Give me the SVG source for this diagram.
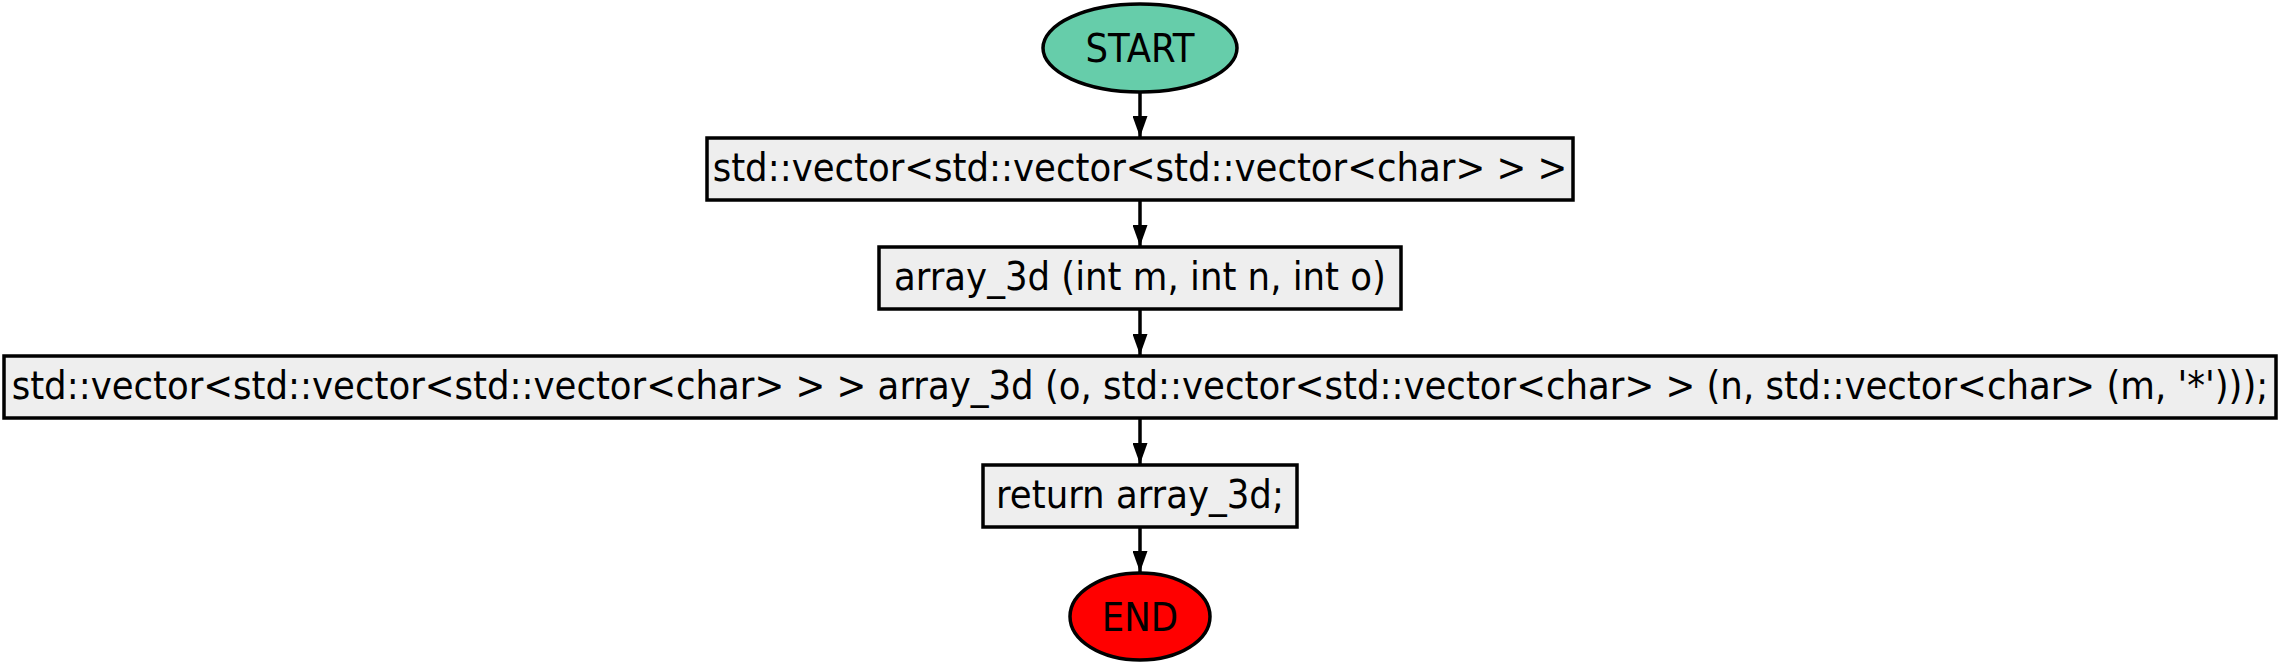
<svg xmlns="http://www.w3.org/2000/svg" width="2280" height="665" viewBox="0 0 2280 665">
<style>
  .box { fill: #eeeeee; stroke: #000000; stroke-width: 3.5; }
  .oval { stroke: #000000; stroke-width: 3.5; }
  .lbl { font-family: "DejaVu Sans Condensed", "DejaVu Sans", sans-serif; font-size: 39.5px; fill: #000000; text-anchor: middle; }
  .edge { stroke: #000000; stroke-width: 3.5; fill: none; }
</style>
<defs>
  <marker id="arrow" viewBox="0 0 21 15" refX="21" refY="7.5" markerWidth="21" markerHeight="15" markerUnits="userSpaceOnUse" orient="auto">
    <path d="M0,0 L21,7.5 L0,15 Z" fill="#000000"/>
  </marker>
</defs>
<rect width="2280" height="665" fill="#ffffff"/>
<g id="connectors">
  <line class="edge" x1="1140" y1="92" x2="1140" y2="137" marker-end="url(#arrow)"/>
  <line class="edge" x1="1140" y1="200" x2="1140" y2="246" marker-end="url(#arrow)"/>
  <line class="edge" x1="1140" y1="309" x2="1140" y2="355" marker-end="url(#arrow)"/>
  <line class="edge" x1="1140" y1="418" x2="1140" y2="464" marker-end="url(#arrow)"/>
  <line class="edge" x1="1140" y1="527" x2="1140" y2="572" marker-end="url(#arrow)"/>
</g>
<g id="start">
  <ellipse class="oval" cx="1140" cy="48" rx="97" ry="44" fill="#66cdaa"/>
  <text class="lbl" x="1140" y="62">START</text>
</g>
<g id="decl">
  <rect class="box" x="707" y="138" width="866" height="62"/>
  <text class="lbl" x="1140" y="181">std::vector&lt;std::vector&lt;std::vector&lt;char&gt; &gt; &gt;</text>
</g>
<g id="func">
  <rect class="box" x="879" y="247" width="522" height="62"/>
  <text class="lbl" x="1140" y="290">array_3d (int m, int n, int o)</text>
</g>
<g id="init">
  <rect class="box" x="4" y="356" width="2272" height="62"/>
  <text class="lbl" x="1140" y="399">std::vector&lt;std::vector&lt;std::vector&lt;char&gt; &gt; &gt; array_3d (o, std::vector&lt;std::vector&lt;char&gt; &gt; (n, std::vector&lt;char&gt; (m, '*')));</text>
</g>
<g id="ret">
  <rect class="box" x="983" y="465" width="314" height="62"/>
  <text class="lbl" x="1140" y="508">return array_3d;</text>
</g>
<g id="end">
  <ellipse class="oval" cx="1140" cy="616.5" rx="70" ry="43.5" fill="#ff0000"/>
  <text class="lbl" x="1140" y="631">END</text>
</g>
</svg>
